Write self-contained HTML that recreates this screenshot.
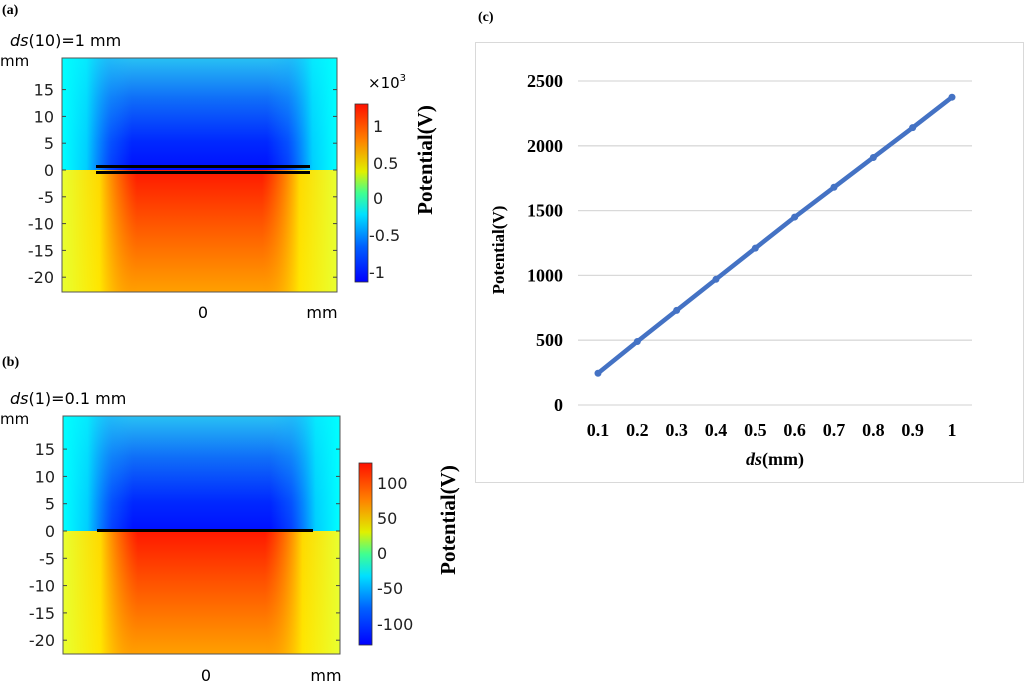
<!DOCTYPE html>
<html><head><meta charset="utf-8">
<style>
html,body{margin:0;padding:0;background:#fff;}
svg{display:block;}
.s{font-family:"DejaVu Sans","Liberation Sans",sans-serif;}
.t{font-family:"Liberation Serif",serif;font-weight:bold;}
</style></head>
<body>
<svg id="fig" width="1024" height="683" viewBox="0 0 1024 683" xmlns="http://www.w3.org/2000/svg">
<defs>
  <linearGradient id="topV" x1="0" y1="0" x2="0" y2="1">
    <stop offset="0" stop-color="#28c0f4"/>
    <stop offset="0.35" stop-color="#1070f8"/>
    <stop offset="0.75" stop-color="#0028ff"/>
    <stop offset="1" stop-color="#0010ff"/>
  </linearGradient>
  <linearGradient id="cyanL" x1="0" y1="0" x2="1" y2="0">
    <stop offset="0" stop-color="#00ffff" stop-opacity="1"/>
    <stop offset="0.35" stop-color="#00f0ff" stop-opacity="0.85"/>
    <stop offset="0.7" stop-color="#10b0ff" stop-opacity="0.3"/>
    <stop offset="1" stop-color="#10b0ff" stop-opacity="0"/>
  </linearGradient>
  <linearGradient id="cyanR" x1="1" y1="0" x2="0" y2="0">
    <stop offset="0" stop-color="#00ffff" stop-opacity="1"/>
    <stop offset="0.35" stop-color="#00f0ff" stop-opacity="0.85"/>
    <stop offset="0.7" stop-color="#10b0ff" stop-opacity="0.3"/>
    <stop offset="1" stop-color="#10b0ff" stop-opacity="0"/>
  </linearGradient>
  <linearGradient id="botV" x1="0" y1="0" x2="0" y2="1">
    <stop offset="0" stop-color="#ff1800"/>
    <stop offset="0.4" stop-color="#ff5000"/>
    <stop offset="1" stop-color="#ffa000"/>
  </linearGradient>
  <linearGradient id="yelL" x1="0" y1="0" x2="1" y2="0">
    <stop offset="0" stop-color="#e8ff30" stop-opacity="1"/>
    <stop offset="0.5" stop-color="#ffee00" stop-opacity="0.9"/>
    <stop offset="0.8" stop-color="#ffb000" stop-opacity="0.4"/>
    <stop offset="1" stop-color="#ff9000" stop-opacity="0"/>
  </linearGradient>
  <linearGradient id="yelR" x1="1" y1="0" x2="0" y2="0">
    <stop offset="0" stop-color="#e8ff30" stop-opacity="1"/>
    <stop offset="0.5" stop-color="#ffee00" stop-opacity="0.9"/>
    <stop offset="0.8" stop-color="#ffb000" stop-opacity="0.4"/>
    <stop offset="1" stop-color="#ff9000" stop-opacity="0"/>
  </linearGradient>
  <linearGradient id="jet" x1="0" y1="1" x2="0" y2="0">
    <stop offset="0" stop-color="#0000ff"/>
    <stop offset="0.2" stop-color="#0060ff"/>
    <stop offset="0.38" stop-color="#00e0ff"/>
    <stop offset="0.5" stop-color="#40ff90"/>
    <stop offset="0.62" stop-color="#e0f000"/>
    <stop offset="0.8" stop-color="#ff8000"/>
    <stop offset="1" stop-color="#ff1000"/>
  </linearGradient>
</defs>

<!-- Panel (a) -->
<g>
  <text class="t" x="2" y="14" font-size="14">(a)</text>
  <text class="s" x="10" y="46" font-size="16"><tspan font-style="italic">ds</tspan>(10)=1 mm</text>
  <text class="s" x="0" y="66" font-size="15">mm</text>
  <g>
    <rect x="62" y="58" width="275" height="112" fill="url(#topV)"/>
    <rect x="62" y="58" width="70" height="112" fill="url(#cyanL)"/>
    <rect x="267" y="58" width="70" height="112" fill="url(#cyanR)"/>
    <rect x="62" y="170" width="275" height="122" fill="url(#botV)"/>
    <rect x="62" y="170" width="75" height="122" fill="url(#yelL)"/>
    <rect x="262" y="170" width="75" height="122" fill="url(#yelR)"/>
  </g>
  <rect x="96" y="165" width="214" height="3" fill="#000"/>
  <rect x="96" y="171" width="214" height="3" fill="#000"/>
  <rect x="62" y="58" width="275" height="234" fill="none" stroke="#555" stroke-width="1"/>
  <g id="aTicks" class="s" font-size="16" fill="#222"></g>
  <text class="s" x="203" y="318" font-size="16" text-anchor="middle">0</text>
  <text class="s" x="322" y="318" font-size="16" text-anchor="middle">mm</text>
  <rect x="355" y="104" width="13" height="178" fill="url(#jet)" stroke="#333" stroke-width="0.8"/>
  <text class="s" x="368" y="88" font-size="15">×10<tspan font-size="10" dy="-7">3</tspan></text>
  <g class="s" font-size="16" fill="#222">
    <text x="373" y="132">1</text><text x="373" y="169">0.5</text><text x="373" y="204">0</text><text x="369" y="241">-0.5</text><text x="369" y="278">-1</text>
  </g>
  <text class="t" font-size="21" transform="translate(432,160) rotate(-90)" text-anchor="middle">Potential(V)</text>
</g>

<!-- Panel (b) -->
<g>
  <text class="t" x="2" y="366" font-size="14">(b)</text>
  <text class="s" x="10" y="404" font-size="16"><tspan font-style="italic">ds</tspan>(1)=0.1 mm</text>
  <text class="s" x="0" y="424" font-size="15">mm</text>
  <g>
    <rect x="63" y="416" width="277" height="115" fill="url(#topV)"/>
    <rect x="63" y="416" width="70" height="115" fill="url(#cyanL)"/>
    <rect x="270" y="416" width="70" height="115" fill="url(#cyanR)"/>
    <rect x="63" y="531" width="277" height="123" fill="url(#botV)"/>
    <rect x="63" y="531" width="75" height="123" fill="url(#yelL)"/>
    <rect x="265" y="531" width="75" height="123" fill="url(#yelR)"/>
  </g>
  <rect x="97" y="529" width="216" height="3" fill="#000"/>
  <rect x="63" y="416" width="277" height="238" fill="none" stroke="#555" stroke-width="1"/>
  <g id="bTicks" class="s" font-size="16" fill="#222"></g>
  <text class="s" x="206" y="681" font-size="16" text-anchor="middle">0</text>
  <text class="s" x="326" y="681" font-size="16" text-anchor="middle">mm</text>
  <rect x="359" y="463" width="13" height="182" fill="url(#jet)" stroke="#333" stroke-width="0.8"/>
  <g class="s" font-size="16" fill="#222">
    <text x="377" y="489">100</text><text x="377" y="524">50</text><text x="377" y="559">0</text><text x="377" y="594">-50</text><text x="377" y="630">-100</text>
  </g>
  <text class="t" font-size="21" transform="translate(455,520) rotate(-90)" text-anchor="middle">Potential(V)</text>
</g>

<!-- Panel (c) -->
<g>
  <text class="t" x="478" y="21" font-size="14">(c)</text>
  <rect x="475.5" y="42.5" width="548" height="440" fill="#fff" stroke="#d9d9d9" stroke-width="1"/>
  <g id="grid"></g>
  <g id="yLabels" class="t" font-size="18"></g>
  <g id="xLabels" class="t" font-size="18"></g>
  <g id="series"></g>
  <text class="t" font-size="17" transform="translate(504,250) rotate(-90)" text-anchor="middle">Potential(V)</text>
  <text class="t" x="775" y="465" font-size="18" text-anchor="middle"><tspan font-style="italic">ds</tspan>(mm)</text>
</g>
</svg>

<script>
const categories = ["0.1","0.2","0.3","0.4","0.5","0.6","0.7","0.8","0.9","1"];
const potentialValues = [245, 490, 730, 970, 1210, 1450, 1680, 1910, 2140, 2375];
const yTicks = [0, 500, 1000, 1500, 2000, 2500];
const heatYTicks = [15, 10, 5, 0, -5, -10, -15, -20];

const NS = "http://www.w3.org/2000/svg";
function mk(tag, attrs, parent){
  const e = document.createElementNS(NS, tag);
  for (const k in attrs) e.setAttribute(k, attrs[k]);
  parent.appendChild(e);
  return e;
}
const yMin = 0, yMax = 2500, pyBottom = 405, pyTop = 81;
function yScale(v){ return pyBottom - (v - yMin) / (yMax - yMin) * (pyBottom - pyTop); }
const x0 = 598, x1 = 952;
function xScale(i){ return x0 + i * (x1 - x0) / (categories.length - 1); }

const grid = document.getElementById('grid');
const yL = document.getElementById('yLabels');
yTicks.forEach(t => {
  const g = mk('line', {x1:578, x2:972, y1:yScale(t), y2:yScale(t), stroke:'#d9d9d9', 'stroke-width':1.3}, grid);
  
  
  const tx = mk('text', {x:563, y:yScale(t)+6, 'text-anchor':'end'}, yL);
  tx.textContent = t;
  
  
});
const xL = document.getElementById('xLabels');
categories.forEach((c, i) => {
  const tx = mk('text', {x:xScale(i), y:436, 'text-anchor':'middle'}, xL);
  tx.textContent = c;
  
  
});
const series = document.getElementById('series');
const pts = potentialValues.map((v, i) => xScale(i) + ',' + yScale(v)).join(' ');
const line = mk('polyline', {points:pts, fill:'none', stroke:'#4472c4', 'stroke-width':4.5, 'stroke-linecap':'round'}, series);


potentialValues.forEach((v, i) => {
  const c = mk('circle', {cx:xScale(i), cy:yScale(v), r:3.5, fill:'#4472c4'}, series);
  
  
});

function heatTicks(id, zeroY, pxPer5, left, right){
  const g = document.getElementById(id);
  heatYTicks.forEach(t => {
    const y = zeroY - t / 5 * pxPer5;
    const tx = mk('text', {x:left-8, y:y+6, 'text-anchor':'end'}, g);
    tx.textContent = t;
    
    
    mk('line', {x1:left, x2:left+4, y1:y, y2:y, stroke:'#444'}, g);
    mk('line', {x1:right-4, x2:right, y1:y, y2:y, stroke:'#444'}, g);
  });
}
heatTicks('aTicks', 170, 26.8, 62, 337);
heatTicks('bTicks', 531, 27.3, 63, 340);
</script>
</body></html>
